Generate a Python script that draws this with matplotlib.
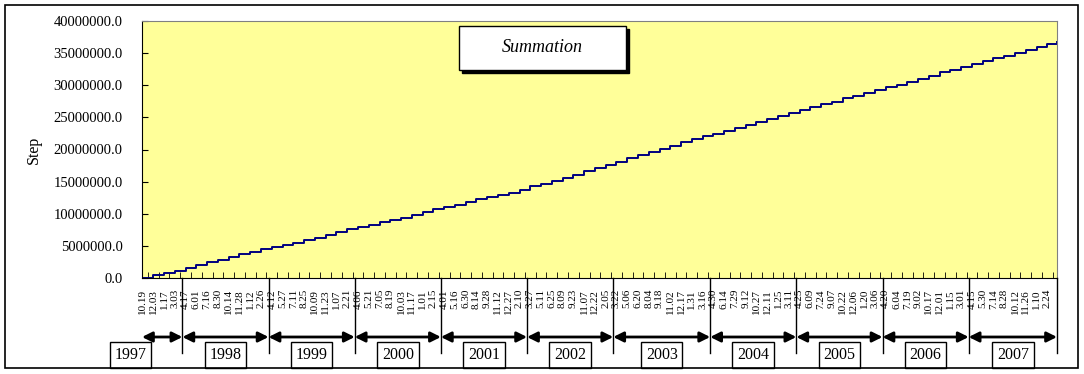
import matplotlib
matplotlib.use("Agg")
import matplotlib.pyplot as plt
from matplotlib import transforms
from matplotlib.patches import Rectangle
from matplotlib.ticker import FuncFormatter, FixedLocator
import numpy as np

# fiscal years shown under the axis
years = ['1997', '1998', '1999', '2000', '2001', '2002',
         '2003', '2004', '2005', '2006', '2007']

# date labels of the category axis, grouped by fiscal year
labels_1997 = ['10.19', '12.03', '1.17', '3.03']
labels_1998 = ['4.17', '6.01', '7.16', '8.30', '10.14', '11.28', '1.12', '2.26']
labels_1999 = ['4.12', '5.27', '7.11', '8.25', '10.09', '11.23', '1.07', '2.21']
labels_2000 = ['4.06', '5.21', '7.05', '8.19', '10.03', '11.17', '1.01', '2.15']
labels_2001 = ['4.01', '5.16', '6.30', '8.14', '9.28', '11.12', '12.27', '2.10']
labels_2002 = ['3.27', '5.11', '6.25', '8.09', '9.23', '11.07', '12.22', '2.05']
labels_2003 = ['3.22', '5.06', '6.20', '8.04', '9.18', '11.02', '12.17', '1.31', '3.16']
labels_2004 = ['4.30', '6.14', '7.29', '9.12', '10.27', '12.11', '1.25', '3.11']
labels_2005 = ['4.25', '6.09', '7.24', '9.07', '10.22', '12.06', '1.20', '3.06']
labels_2006 = ['4.20', '6.04', '7.19', '9.02', '10.17', '12.01', '1.15', '3.01']
labels_2007 = ['4.15', '5.30', '7.14', '8.28', '10.12', '11.26', '1.10', '2.24']

year_labels = [labels_1997, labels_1998, labels_1999, labels_2000, labels_2001,
               labels_2002, labels_2003, labels_2004, labels_2005, labels_2006,
               labels_2007]

# cumulative sum (millions) at every labelled date, plus the end
summation = [0.0, 0.45, 0.8, 1.15, 1.6, 2.05, 2.45, 2.8, 3.3, 3.75,
             4.1, 4.45, 4.8, 5.15, 5.5, 5.9, 6.3, 6.75, 7.15, 7.6,
             7.95, 8.3, 8.65, 9.0, 9.35, 9.8, 10.3, 10.7, 11.05, 11.4,
             11.8, 12.25, 12.6, 12.95, 13.3, 13.75, 14.25, 14.65, 15.05, 15.5,
             16.0, 16.6, 17.15, 17.6, 18.1, 18.6, 19.1, 19.55, 20.05, 20.6,
             21.1, 21.6, 22.05, 22.4, 22.85, 23.35, 23.8, 24.25, 24.7, 25.2,
             25.7, 26.15, 26.6, 27.05, 27.45, 27.95, 28.4, 28.8, 29.2, 29.65,
             30.1, 30.55, 31.0, 31.5, 32.0, 32.45, 32.85, 33.3, 33.75, 34.2,
             34.6, 35.05, 35.5, 35.95, 36.4, 36.8]

tick_labels = [s for grp in year_labels for s in grp]
n = len(tick_labels)
x_end = n - 0.1

W, H = 1084, 374
fig = plt.figure(figsize=(W / 100, H / 100), dpi=100)
serif = ['Liberation Serif', 'DejaVu Serif']
plt.rcParams['font.family'] = serif

def fy(py):
    return 1 - py / H

# outer frame
fig.patches.append(Rectangle((5 / W, fy(368)), (1078 - 5) / W, (368 - 5) / H,
                             transform=fig.transFigure, fill=False,
                             edgecolor='black', linewidth=1.2))

ax = fig.add_axes([142 / W, fy(278), (1057 - 142) / W, (278 - 21) / H])
ax.set_facecolor('#FFFF99')

xs = list(range(n)) + [x_end]
ys = np.array(summation) * 1e6
ax.plot(xs, ys, drawstyle='steps-post', color='#000080', linewidth=1.4)

ax.set_xlim(-0.05, x_end)
ax.set_ylim(0, 40e6)
ax.set_yticks(np.arange(0, 40e6 + 1, 5e6))
ax.yaxis.set_major_formatter(FuncFormatter(lambda v, p: f"{v:.1f}"))
ax.tick_params(axis='y', direction='in', length=4, pad=14, labelsize=10.5)
ax.set_ylabel('Step', fontsize=11.5, labelpad=8)

ax.set_xticks(range(n))
ax.set_xticklabels(tick_labels, rotation=90, fontsize=8)
ax.tick_params(axis='x', which='major', length=0, pad=8)
ax.xaxis.set_minor_locator(FixedLocator(np.arange(0.5, n, 1)))
ax.tick_params(axis='x', which='minor', direction='in', length=4)

for s in ['top', 'right']:
    ax.spines[s].set_color('#808080')
for s in ['left', 'bottom']:
    ax.spines[s].set_color('black')

# title box with shadow
fig.patches.append(Rectangle((462 / W, fy(73)), 167 / W, 44 / H,
                             transform=fig.transFigure, facecolor='black',
                             edgecolor='black'))
fig.patches.append(Rectangle((459 / W, fy(70)), 167 / W, 44 / H,
                             transform=fig.transFigure, facecolor='white',
                             edgecolor='black', linewidth=1))
fig.text(542 / W, fy(48), 'Summation', fontsize=13, style='italic',
         ha='center', va='center')

# fiscal year separators, arrows and boxes
trans = transforms.blended_transform_factory(ax.transData, fig.transFigure)
counts = np.cumsum([len(g) for g in year_labels])
bounds = [-0.05] + [c - 0.3 for c in counts[:-1]] + [x_end]
for b in bounds[1:]:
    fig.lines.append(plt.Line2D([b, b], [fy(278), fy(353)], transform=trans,
                                color='black', linewidth=1))

for i, yr in enumerate(years):
    a, b = bounds[i], bounds[i + 1]
    ax.annotate('', xy=(b, fy(337)), xytext=(a, fy(337)),
                xycoords=trans, textcoords=trans,
                arrowprops=dict(arrowstyle='<|-|>,head_length=0.6,head_width=0.3',
                                color='black', lw=2, shrinkA=0, shrinkB=0),
                annotation_clip=False)
    cx = (a + b) / 2 if i > 0 else -1.1
    ax.text(cx, fy(355), yr, transform=trans, fontsize=11.5, ha='center',
            va='center',
            bbox=dict(boxstyle='square,pad=0.3', facecolor='white',
                      edgecolor='black', linewidth=1))

fig.savefig('out.png', dpi=100)
